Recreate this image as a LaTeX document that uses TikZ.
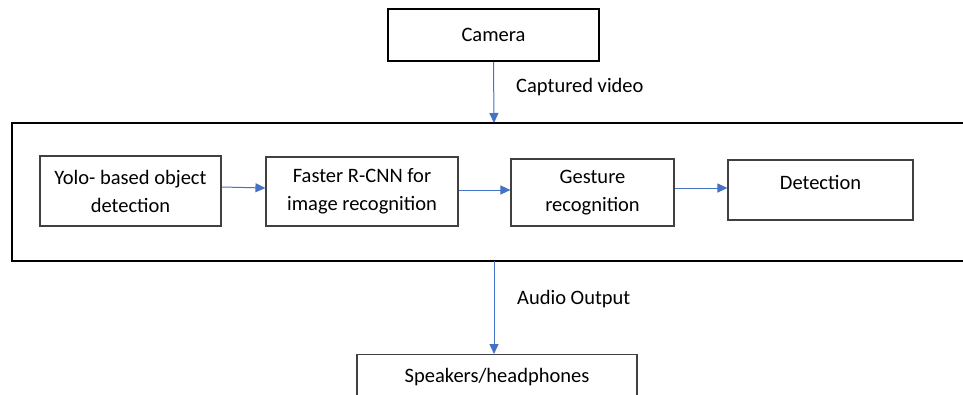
\documentclass[tikz,border=0pt]{standalone}
\usepackage{fontspec}
\setmainfont{Carlito}
\usetikzlibrary{arrows.meta}
\definecolor{arrowblue}{HTML}{4472C4}
\definecolor{boxgray}{HTML}{404040}
\begin{document}
\begin{tikzpicture}[x=1pt,y=-1pt,
  every node/.style={font=\fontsize{20.5}{28}\selectfont},
  box/.style={draw=boxgray,line width=1.1pt,align=center,inner sep=0pt},
  bigbox/.style={draw=black,line width=2pt},
  flow/.style={draw=arrowblue,line width=1pt,-{Triangle[length=10pt,width=9pt]}},
  lbl/.style={anchor=west,inner sep=0pt}]
\useasboundingbox (0,0) rectangle (963,394);
\clip (0,0) rectangle (963,394);
% big container
\draw[bigbox] (975,123) -- (12,123) -- (12,261) -- (975,261);
\coordinate (bigtop) at (494,123);
\coordinate (bigbot) at (494,261);
% camera
\node[box,draw=black,line width=2pt,minimum width=211pt,minimum height=52pt] (camera) at (493.5,35) {Camera};
% inner boxes
\node[box,minimum width=181pt,minimum height=70pt] (yolo) at (130.5,191) {Yolo- based object\\detection};
\node[box,minimum width=192pt,minimum height=69pt] (faster) at (362,191.5) {Faster R-CNN for\\image recognition};
\node[box,minimum width=163pt,minimum height=67pt] (gesture) at (592.5,192.5) {Gesture\\recognition};
\node[box,minimum width=185pt,minimum height=60pt] (detect) at (820.5,190) {};
\node[inner sep=0pt] (detlbl) at (820.5,182) {Detection};
% speakers
\node[box,minimum width=280pt,minimum height=80pt,anchor=north] (speak) at (497,354) {};
\node[inner sep=0pt] (speaklbl) at (497,377) {Speakers/headphones};
\coordinate (speaktop) at (494,354);
% arrows
\draw[flow] (camera.south) -- (bigtop);
\node[lbl] (cap) at (516,87) {Captured video};
\draw[flow] (yolo.east |- 0,187) -- (faster.west |- 0,188);
\draw[flow] (faster.east |- 0,190) -- (gesture.west |- 0,190);
\draw[flow] (gesture.east |- 0,188) -- (detect.west |- 0,188);
\draw[flow] (bigbot) -- (speaktop);
\node[lbl] (audio) at (517,299) {Audio Output};
\end{tikzpicture}
\end{document}
